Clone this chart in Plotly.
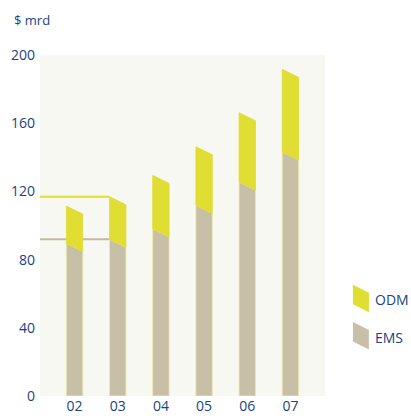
import plotly.graph_objects as go

# Data
years = ["02", "03", "04", "05", "06", "07"]
ems = [89.5, 91.9, 98.1, 111.8, 125.5, 143.1]
odm = [21.9, 25.0, 31.3, 34.4, 40.7, 48.5]
y_ticks = [0, 40, 80, 120, 160, 200]
unit_label = "$ mrd"
series_names = ["ODM", "EMS"]

# Style
C_ODM = "#e0dd33"
C_EMS = "#c7bfa6"
C_BG = "#f8f8f3"
C_TXT = "#1a437f"
C_EDGE = "#ece9a8"
FONT = "Open Sans"
W = 0.38      # bar width in category units
SLANT = 4.7   # drop of the slanted top, value units

fig = go.Figure()
xs = list(range(len(years)))
totals = [e + o for e, o in zip(ems, odm)]

# reference lines (03 level) behind bars
ref = 1
fig.add_trace(go.Scatter(x=[-0.8, ref - W / 2], y=[totals[ref], totals[ref]], mode="lines",
                         line=dict(color=C_ODM, width=2), hoverinfo="skip", showlegend=False))
fig.add_trace(go.Scatter(x=[-0.8, ref - W / 2], y=[ems[ref], ems[ref]], mode="lines",
                         line=dict(color="#c2b9a0", width=2), hoverinfo="skip", showlegend=False))

for i, (e, t) in enumerate(zip(ems, totals)):
    l, r = i - W / 2, i + W / 2
    fig.add_trace(go.Scatter(x=[l, r, r, l, l], y=[0, 0, e - SLANT, e, 0], mode="lines",
                             fill="toself", fillcolor=C_EMS, line=dict(color=C_EDGE, width=0.8),
                             hoverinfo="skip", showlegend=False))
    fig.add_trace(go.Scatter(x=[l, r, r, l, l], y=[e, e - SLANT, t - SLANT, t, e], mode="lines",
                             fill="toself", fillcolor=C_ODM, line=dict(color=C_ODM, width=0.8),
                             hoverinfo="skip", showlegend=False))

# legend swatches (paper coords)
def para(x0, x1, ytop, h, s):
    return f"M {x0} {ytop} L {x1} {ytop - s} L {x1} {ytop - s - h} L {x0} {ytop - h} Z"

sx0, sx1 = 1.098, 1.154
s = 0.0235
h = 0.057
shapes = [
    dict(type="path", xref="paper", yref="paper", path=para(sx0, sx1, 0.326, h, s),
         fillcolor=C_ODM, line=dict(width=0)),
    dict(type="path", xref="paper", yref="paper", path=para(sx0, sx1, 0.217, h, s),
         fillcolor=C_EMS, line=dict(width=0)),
]
annotations = [
    dict(text=series_names[0], xref="paper", yref="paper", x=1.17, y=0.282, xanchor="left",
         yanchor="middle", showarrow=False, font=dict(family=FONT, size=14, color=C_TXT)),
    dict(text=series_names[1], xref="paper", yref="paper", x=1.17, y=0.173, xanchor="left",
         yanchor="middle", showarrow=False, font=dict(family=FONT, size=14, color=C_TXT)),
    dict(text=unit_label, xref="paper", yref="paper", x=-0.097, y=1.103, xanchor="left",
         yanchor="middle", showarrow=False, font=dict(family=FONT, size=13, color=C_TXT)),
]

fig.update_layout(
    width=411, height=416,
    margin=dict(l=40, r=86, t=55, b=20, autoexpand=False),
    paper_bgcolor="white", plot_bgcolor=C_BG,
    shapes=shapes, annotations=annotations, showlegend=False,
    xaxis=dict(range=[-0.8, len(years) - 0.2], tickmode="array", tickvals=xs, ticktext=years,
               showgrid=False, zeroline=False, showline=False, ticks="", automargin=False,
               tickfont=dict(family=FONT, size=14, color=C_TXT), fixedrange=True),
    yaxis=dict(range=[0, 200], tickmode="array", tickvals=y_ticks, showgrid=False,
               zeroline=False, showline=False, ticks="", ticklabelstandoff=4, automargin=False,
               tickfont=dict(family=FONT, size=14, color=C_TXT), fixedrange=True),
)

fig.write_html("out.html", config={"displayModeBar": False},
               post_script="document.body.style.margin='0';document.body.style.overflow='hidden';")
